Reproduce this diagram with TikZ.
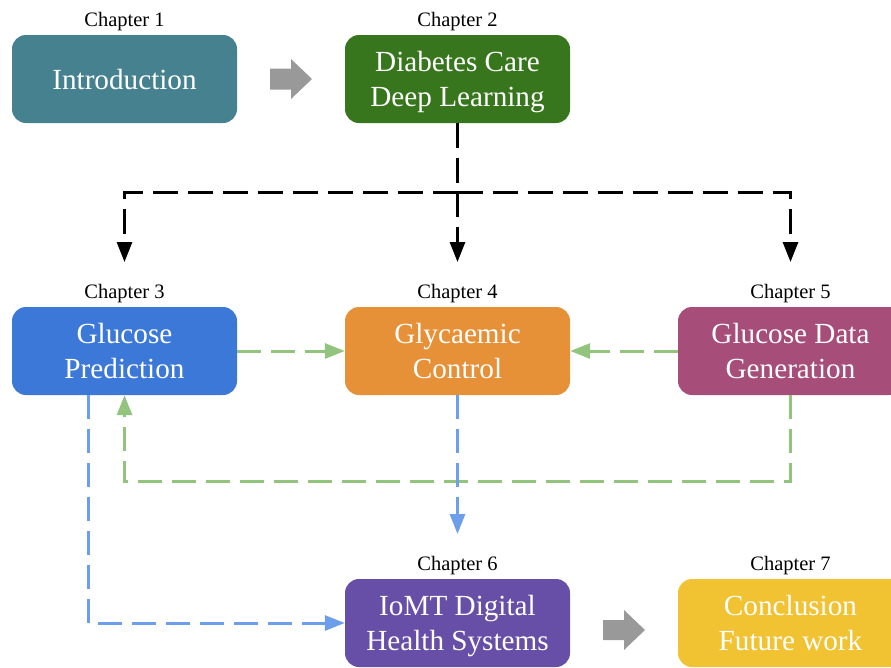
\documentclass[tikz,border=0pt]{standalone}
\usepackage{fontspec}
\setmainfont{Liberation Serif}
\usetikzlibrary{arrows.meta}
\definecolor{cteal}{HTML}{45818E}
\definecolor{cgreen}{HTML}{38761D}
\definecolor{cblue}{HTML}{3C78D8}
\definecolor{corange}{HTML}{E69138}
\definecolor{cmaroon}{HTML}{A64D79}
\definecolor{cpurple}{HTML}{674EA7}
\definecolor{cyellow}{HTML}{F1C232}
\definecolor{cgray}{HTML}{999999}
\definecolor{lgreen}{HTML}{93C47D}
\definecolor{lblue}{HTML}{6D9EEB}
\tikzset{
  chbox/.style={rectangle, rounded corners=14pt, minimum width=225pt, minimum height=88pt,
    inner sep=0pt, align=center, text=white, font=\fontsize{29.2}{35}\selectfont,
    text depth=0pt},
  chlabel/.style={anchor=base, inner sep=0pt, font=\fontsize{20.5}{24}\selectfont},
  tip/.style={-{Triangle[length=20pt,width=15pt]}},
  blk/.style={line width=3pt, black, dash pattern=on 25pt off 10pt},
  grn/.style={line width=3pt, lgreen, dash pattern=on 24pt off 10pt},
  blu/.style={line width=3pt, lblue, dash pattern=on 24pt off 10pt},
  blockarrow/.style={fill=cgray, draw=none}
}
\begin{document}
\begin{tikzpicture}[x=1pt,y=-1pt]
\useasboundingbox (0,0) rectangle (891,667);
\clip (0,0) rectangle (891,667);
% boxes
\node[chbox, fill=cteal]   (ch1) at (124.5,79)  {Introduction};
\node[chbox, fill=cgreen]  (ch2) at (457.5,79)  {Diabetes Care\\Deep Learning};
\node[chbox, fill=cblue]   (ch3) at (124.5,351) {Glucose\\Prediction};
\node[chbox, fill=corange] (ch4) at (457.5,351) {Glycaemic\\Control};
\node[chbox, fill=cmaroon] (ch5) at (790.5,351) {Glucose Data\\Generation};
\node[chbox, fill=cpurple] (ch6) at (457.5,623) {IoMT Digital\\Health Systems};
\node[chbox, fill=cyellow] (ch7) at (790.5,623) {Conclusion\\Future work};
% chapter labels
\node[chlabel] (l1) at (124.5,26)  {Chapter 1};
\node[chlabel] (l2) at (457.5,26)  {Chapter 2};
\node[chlabel] (l3) at (124.5,298) {Chapter 3};
\node[chlabel] (l4) at (457.5,298) {Chapter 4};
\node[chlabel] (l5) at (790.5,298) {Chapter 5};
\node[chlabel] (l6) at (457.5,570) {Chapter 6};
\node[chlabel] (l7) at (790.5,570) {Chapter 7};
% gray block arrows
\coordinate (a1) at (291,79);
\fill[blockarrow] (a1) ++(-21,-10.5) -- ++(21,0) -- ++(0,-9.5) -- ++(21,20) -- ++(-21,20) -- ++(0,-9.5) -- ++(-21,0) -- cycle;
\coordinate (a2) at (624,630);
\fill[blockarrow] (a2) ++(-21,-10) -- ++(21,0) -- ++(0,-10) -- ++(21,20) -- ++(-21,20) -- ++(0,-10) -- ++(-21,0) -- cycle;
% black dashed connectors
\coordinate (split) at (457.5,192);
\coordinate (t3) at (124.5,262);
\coordinate (t4) at (457.5,262);
\coordinate (t5) at (790.5,262);
\draw[blk] (ch2.south) -- (split);
\draw[blk, tip] (split) -| (t3);
\draw[blk, tip] (split) -- (t4);
\draw[blk, tip] (split) -| (t5);
% green dashed connectors
\draw[grn, tip] (ch3.east) -- (ch4.west);
\draw[grn, tip] (ch5.west) -- (ch4.east);
\coordinate (gl) at (124.5,481);
\draw[grn, tip] (ch5.south) |- (gl) -- (ch3.south);
% blue dashed connectors
\coordinate (bt) at (88,395);
\coordinate (bl) at (88,623);
\draw[blu, tip] (bt) -- (bl) -- (ch6.west);
\coordinate (t6) at (457.5,534);
\draw[blu, tip] (ch4.south) -- (t6);
\end{tikzpicture}
\end{document}
